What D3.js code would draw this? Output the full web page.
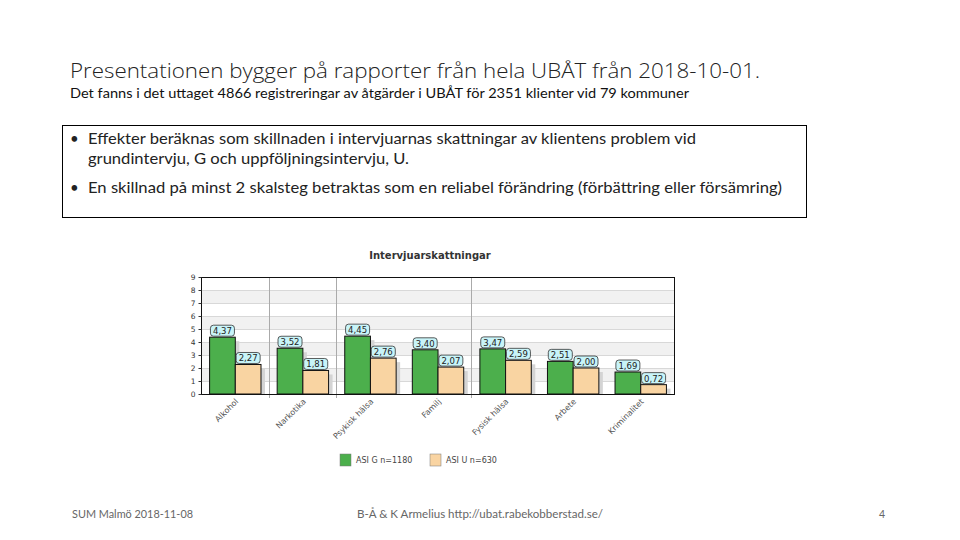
<!DOCTYPE html>
<html><head><meta charset="utf-8">
<script src="https://cdn.jsdelivr.net/npm/d3@7"></script>
<style>body{margin:0;background:#fff}svg{display:block}</style>
</head><body>
<svg id="c" width="960" height="540"></svg>
<script>
const categories = ["Alkohol","Narkotika","Psykisk hälsa","Familj","Fysisk hälsa","Arbete","Kriminalitet"];
const seriesNames = ["ASI G n=1180","ASI U n=630"];
const seriesG = [4.37,3.52,4.45,3.40,3.47,2.51,1.69];
const seriesU = [2.27,1.81,2.76,2.07,2.59,2.00,0.72];
const yTicks = [0,1,2,3,4,5,6,7,8,9];
const bandStarts = [1,3,5,7];
const dividerIdx = [1,2,4];
const colors = ["#4caf4c","#f9d4a2"];

const svg = d3.select("#c");
const font = "Lato, 'Open Sans', 'Liberation Sans', sans-serif";

// Header
svg.append("text").attr("x",70).attr("y",78).attr("font-family","'Open Sans', sans-serif").attr("font-weight",300)
  .attr("font-size",21).attr("fill","#222").attr("textLength",690).attr("lengthAdjust","spacingAndGlyphs")
  .text("Presentationen bygger på rapporter från hela UBÅT från 2018-10-01.");
svg.append("text").attr("x",70).attr("y",98).attr("font-family",font).attr("font-size",13).attr("fill","#111")
  .attr("textLength",619).attr("lengthAdjust","spacingAndGlyphs")
  .text("Det fanns i det uttaget 4866 registreringar av åtgärder i UBÅT för 2351 klienter vid 79 kommuner");

// Box
svg.append("rect").attr("x",62.5).attr("y",125.5).attr("width",744).attr("height",92).attr("fill","none").attr("stroke","#000");
const bullets = [
  {y:144, t:"Effekter beräknas som skillnaden i intervjuarnas skattningar av klientens problem vid", w:608},
  {y:164, t:"grundintervju, G och uppföljningsintervju, U.", w:321, nb:true},
  {y:193, t:"En skillnad på minst 2 skalsteg betraktas som en reliabel förändring (förbättring eller försämring)", w:694}
];
bullets.forEach(b=>{
  if(!b.nb) svg.append("text").attr("x",70).attr("y",b.y).attr("font-family",font).attr("font-size",15).attr("fill","#222").text("•");
  svg.append("text").attr("x",88).attr("y",b.y).attr("font-family",font).attr("font-size",15).attr("fill","#222")
    .attr("textLength",b.w).attr("lengthAdjust","spacingAndGlyphs").text(b.t);
});

// Chart
const x0 = d3.scaleBand().domain(categories).range([201,674]);
const x1 = d3.scaleBand().domain([0,1]).range([8.6, 8.6+51.4]);
const y = d3.scaleLinear().domain([0,9]).range([394,277]);

svg.append("text").attr("x",430).attr("y",259).attr("text-anchor","middle").attr("font-family","'DejaVu Sans', sans-serif")
  .attr("font-weight","bold").attr("font-size",10).attr("fill","#333").text("Intervjuarskattningar");

const g = svg.append("g");
g.selectAll("rect.band").data(bandStarts).join("rect").attr("x",201).attr("width",473)
  .attr("y",d=>y(d+1)).attr("height",d=>y(d)-y(d+1)).attr("fill","#f1f1f1");
g.selectAll("line.grid").data(yTicks).join("line").attr("x1",201).attr("x2",674)
  .attr("y1",d=>Math.round(y(d))+0.5).attr("y2",d=>Math.round(y(d))+0.5).attr("stroke","#d8d8d8");
g.selectAll("line.div").data(dividerIdx).join("line")
  .attr("x1",d=>Math.round(x0(categories[d]))+0.5).attr("x2",d=>Math.round(x0(categories[d]))+0.5)
  .attr("y1",277).attr("y2",398).attr("stroke","#aaa");

const data = categories.map((c,i)=>({c, vals:[seriesG[i],seriesU[i]]}));
const grp = g.selectAll("g.cat").data(data).join("g").attr("transform",d=>`translate(${x0(d.c)},0)`);
grp.selectAll("rect.sh").data(d=>d.vals.map((v,k)=>({v,k}))).join("rect")
  .attr("x",d=>x1(d.k)+x1.bandwidth()).attr("width",4).attr("y",d=>y(d.v)+4).attr("height",d=>y(0)-y(d.v)-4)
  .attr("fill","#d4d4d4");
grp.selectAll("rect.bar").data(d=>d.vals.map((v,k)=>({v,k}))).join("rect")
  .attr("x",d=>x1(d.k)).attr("width",x1.bandwidth()).attr("y",d=>y(d.v)).attr("height",d=>y(0)-y(d.v))
  .attr("fill",d=>colors[d.k]).attr("stroke","#111").attr("stroke-width",1);
const fmt = v=>d3.format(".2f")(v).replace(".",",");
grp.selectAll("g.lab").data(d=>d.vals.map((v,k)=>({v,k}))).join("g")
  .attr("transform",d=>`translate(${x1(d.k)+x1.bandwidth()/2},${y(d.v)-6})`)
  .each(function(d){
    const s=d3.select(this);
    s.append("rect").attr("x",-12).attr("y",-6).attr("width",24).attr("height",11).attr("rx",3)
      .attr("fill","#c8f4f8").attr("stroke","#333").attr("stroke-width",0.8);
    s.append("text").attr("y",3).attr("text-anchor","middle").attr("font-family","'DejaVu Sans', sans-serif")
      .attr("font-size",8.5).attr("fill","#222").text(fmt(d.v));
  });

svg.append("rect").attr("x",201.5).attr("y",277.5).attr("width",473).attr("height",117).attr("fill","none").attr("stroke","#111");
const yAx = svg.append("g").attr("transform","translate(201.5,0)")
  .call(d3.axisLeft(y).tickValues(yTicks).tickSize(3).tickFormat(d3.format("d")));
yAx.select(".domain").remove();
yAx.selectAll("text").attr("font-family","'DejaVu Sans', sans-serif").attr("font-size",7.5).attr("fill","#333");
yAx.selectAll("line").attr("stroke","#333");

const xAx = svg.append("g").attr("transform","translate(0,394.5)");
categories.forEach(c=>{
  const cx = x0(c)+x0.bandwidth()/2;
  xAx.append("text").attr("transform",`translate(${cx+4},${402-394.5}) rotate(-45)`).attr("text-anchor","end")
    .attr("font-family","'DejaVu Sans', sans-serif").attr("font-size",8).attr("fill","#555").text(c);
});

const leg = svg.append("g");
const legX = [340,430];
seriesNames.forEach((n,k)=>{
  leg.append("rect").attr("x",legX[k]).attr("y",454).attr("width",11).attr("height",12).attr("fill",colors[k]).attr("stroke","#777").attr("stroke-width",0.5);
  leg.append("text").attr("x",legX[k]+16).attr("y",463).attr("font-family","'DejaVu Sans', sans-serif").attr("font-size",8).attr("fill","#444").text(n);
});

const ft = [{x:72,t:"SUM Malmö 2018-11-08",w:121},{x:357,t:"B-Å & K Armelius   http://ubat.rabekobberstad.se/",w:246},{x:879,t:"4",w:0}];
ft.forEach(f=>{
  const t=svg.append("text").attr("x",f.x).attr("y",518).attr("font-family",font).attr("font-size",10.5).attr("fill","#666").text(f.t);
  if(f.w) t.attr("textLength",f.w).attr("lengthAdjust","spacingAndGlyphs");
});
</script>
</body></html>
